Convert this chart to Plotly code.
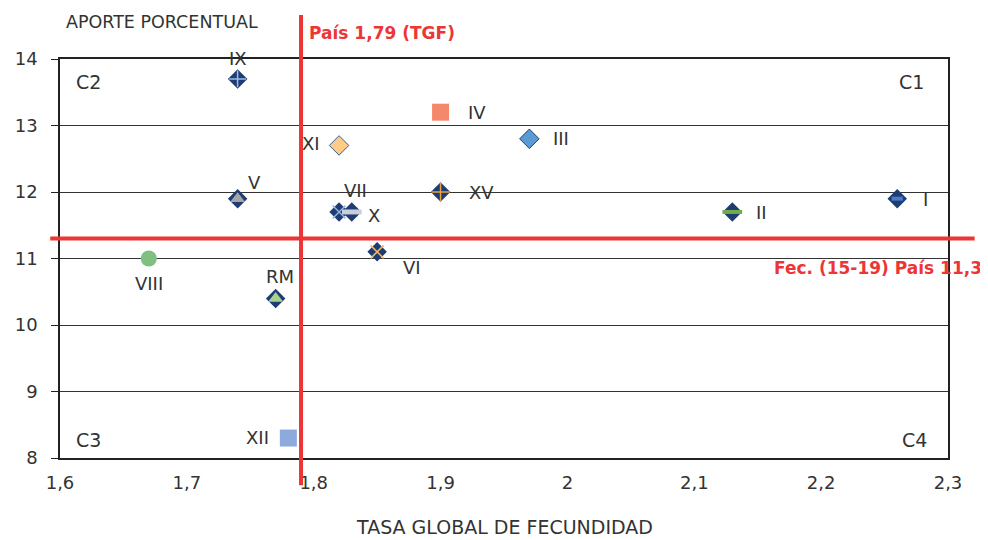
import plotly.graph_objects as go

# regiones: tasa global de fecundidad vs aporte porcentual
regiones = ["IX", "IV", "III", "XI", "V", "VII", "X", "XV", "II", "I", "VI", "VIII", "RM", "XII"]
tgf = [1.74, 1.90, 1.97, 1.82, 1.74, 1.82, 1.83, 1.90, 2.13, 2.26, 1.85, 1.67, 1.77, 1.78]
aporte = [13.7, 13.2, 12.8, 12.7, 11.9, 11.7, 11.7, 12.0, 11.7, 11.9, 11.1, 11.0, 10.4, 8.3]

tgf_pais = 1.79
fec_pais = 11.3

x_ticks = [1.6, 1.7, 1.8, 1.9, 2.0, 2.1, 2.2, 2.3]
x_ticklabels = ["1,6", "1,7", "1,8", "1,9", "2", "2,1", "2,2", "2,3"]
y_ticks = [8, 9, 10, 11, 12, 13, 14]

NAVY = "#1F3D73"
RED = "#EE3535"
FONT = "DejaVu Sans"
TXT = "#333333"


def sobre(symbol, color, size, width):
    # marcador superpuesto abierto (el color de linea sale de marker.color)
    return dict(symbol=symbol, size=size, color=color, line=dict(color=color, width=width))


# estilo de marcador (base, superpuesto) por region
estilos = {
    "IX": (dict(symbol="diamond", color=NAVY, size=15), sobre("cross-thin-open", "#9DBBE6", 12, 1.5)),
    "IV": (dict(symbol="square", color="#F4886A", size=17), None),
    "III": (dict(symbol="diamond", color="#5B9BD5", size=15, line=dict(color=NAVY, width=1)), None),
    "XI": (dict(symbol="diamond", color="#FFCC88", size=15, line=dict(color="#3A5A8C", width=1)), None),
    "V": (dict(symbol="diamond", color=NAVY, size=15), dict(symbol="triangle-up", size=13, color="#A6A6A6")),
    "VII": (dict(symbol="diamond", color=NAVY, size=15), sobre("x-thin-open", "#8EB4E3", 13, 1.5)),
    "X": (dict(symbol="diamond", color=NAVY, size=15), sobre("line-ew-open", "#C9CFD9", 14, 5)),
    "XV": (dict(symbol="diamond", color=NAVY, size=15), sobre("cross-thin-open", "#E8A33C", 13, 1.5)),
    "II": (dict(symbol="diamond", color=NAVY, size=15), sobre("line-ew-open", "#70AD47", 14, 4)),
    "I": (dict(symbol="diamond", color=NAVY, size=15), sobre("line-ew-open", "#4A7CC8", 8, 4)),
    "VI": (dict(symbol="diamond", color=NAVY, size=15), sobre("x-thin-open", "#F4B860", 13, 1.5)),
    "VIII": (dict(symbol="circle", color="#7FBF7F", size=16), None),
    "RM": (dict(symbol="diamond", color=NAVY, size=15), dict(symbol="triangle-up", size=13, color="#A9D18E")),
    "XII": (dict(symbol="square", color="#8EA9DB", size=17), None),
}

# desplazamiento de las etiquetas (px)
desplaz = {
    "IX": (0, 20), "IV": (36, 0), "III": (32, 0), "XI": (-28, 2), "V": (17, 16),
    "VII": (16, 21), "X": (22, -4), "XV": (41, 0), "II": (29, -1), "I": (28, -1),
    "VI": (35, -16), "VIII": (0, -25), "RM": (4, 22), "XII": (-31, 1),
}

fig = go.Figure()

for reg, x, y in zip(regiones, tgf, aporte):
    base, sup = estilos[reg]
    base = dict(base)
    base.setdefault("line", dict(width=0))
    fig.add_trace(go.Scatter(x=[x], y=[y], mode="markers", marker=base, showlegend=False, hoverinfo="skip"))
    if sup is not None:
        sup = dict(sup)
        sup.setdefault("line", dict(width=0))
        fig.add_trace(go.Scatter(x=[x], y=[y], mode="markers", marker=sup, showlegend=False, hoverinfo="skip"))
    dx, dy = desplaz[reg]
    fig.add_annotation(x=x, y=y, text=reg, showarrow=False, xshift=dx, yshift=dy,
                       font=dict(family=FONT, size=18, color=TXT))

# lineas de referencia del pais
fig.add_shape(type="line", xref="x", yref="paper", x0=tgf_pais, x1=tgf_pais, y0=-0.068, y1=1.11,
              line=dict(color=RED, width=4))
fig.add_shape(type="line", xref="paper", yref="y", x0=-0.011, x1=1.03, y0=fec_pais, y1=fec_pais,
              line=dict(color=RED, width=4))


def nota(texto, x, y, size, color=TXT, xanchor="center"):
    fig.add_annotation(xref="paper", yref="paper", x=x, y=y, text=texto, showarrow=False,
                       xanchor=xanchor, yanchor="middle", font=dict(family=FONT, size=size, color=color))


nota("<b>País 1,79 (TGF)</b>", 0.278, 1.065, 17, RED, "left")
nota("<b>Fec. (15-19) País 11,3</b>", 1.041, 0.476, 17, RED, "right")

# cuadrantes
nota("C1", 0.959, 0.942, 19)
nota("C2", 0.032, 0.942, 19)
nota("C3", 0.032, 0.045, 19)
nota("C4", 0.962, 0.045, 19)

nota("TASA GLOBAL DE FECUNDIDAD", 0.5, -0.172, 19)
nota("APORTE PORCENTUAL", 0.005, 1.093, 17.5, TXT, "left")

# la pagina deja 8 px de margen: figura de 980x532 para llenar la ventana
fig.update_layout(
    width=980, height=532,
    margin=dict(l=52, r=40, t=51, b=82, autoexpand=False),
    plot_bgcolor="white", paper_bgcolor="white",
    separators=",.",
    font=dict(family=FONT, size=18, color=TXT),
    xaxis=dict(range=[1.6, 2.3], tickvals=x_ticks, ticktext=x_ticklabels, showgrid=False,
               showline=True, linecolor="#222222", linewidth=1.5, mirror=True,
               ticks="", ticklabelstandoff=8, zeroline=False, automargin=False),
    yaxis=dict(range=[8, 14], tickvals=y_ticks, showgrid=True, gridcolor="#333333", gridwidth=1,
               showline=True, linecolor="#222222", linewidth=1.5, mirror=True,
               ticks="outside", ticklen=7, tickcolor="#222222", ticklabelstandoff=10, zeroline=False,
               automargin=False),
)

fig.write_html("out.html")
